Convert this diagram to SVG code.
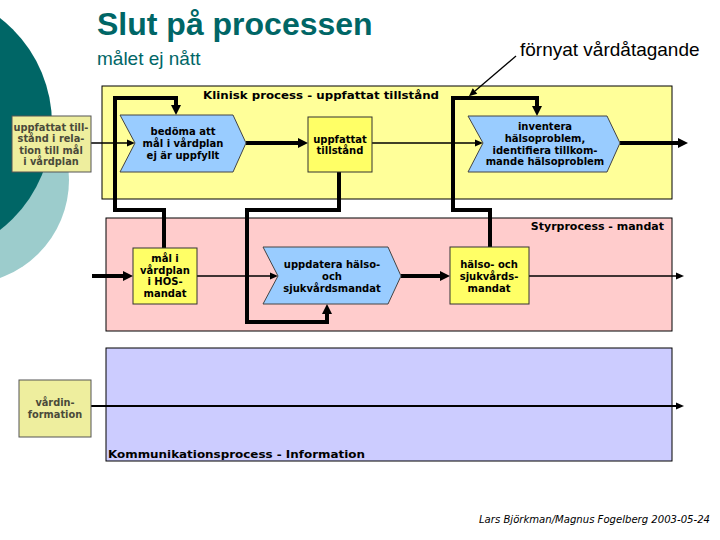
<svg xmlns="http://www.w3.org/2000/svg" width="720" height="540" viewBox="0 0 720 540">
<style>
.title{font-family:"Liberation Sans",Arial,sans-serif;fill:#006666}
.sec{font-family:"DejaVu Sans",Verdana,sans-serif;font-weight:bold;font-size:11px;fill:#000}
.nt{font-family:"DejaVu Sans",Verdana,sans-serif;font-weight:bold;font-size:10px;fill:#000;text-anchor:middle}
.lt{font-family:"DejaVu Sans",Verdana,sans-serif;font-weight:bold;font-size:9.8px;fill:#4a4a3a;text-anchor:middle}
.box{fill:#ffff66;stroke:#333;stroke-width:1}
.src{fill:#eeee9e;stroke:#555;stroke-width:1}
.chev{fill:#99ccff;stroke:#444;stroke-width:1}
.thick{fill:none;stroke:#000;stroke-width:4;stroke-linejoin:miter}
.thin{fill:none;stroke:#000;stroke-width:1.3}
.med{fill:none;stroke:#000;stroke-width:2}
</style>
<defs>
<marker id="ah" markerUnits="userSpaceOnUse" markerWidth="10" markerHeight="10" refX="0" refY="5" orient="auto" overflow="visible"><path d="M0,0 L10,5 L0,10 z" fill="#000"/></marker>
<marker id="as" markerUnits="userSpaceOnUse" markerWidth="8" markerHeight="7" refX="0" refY="3.5" orient="auto" overflow="visible"><path d="M0,0 L8,3.5 L0,7 z" fill="#000"/></marker>
</defs>
<rect width="720" height="540" fill="#fff"/>
<g id="decor">
<circle cx="-35" cy="180" r="104" fill="#9ccccc"/>
<circle cx="-82" cy="124" r="134" fill="#006666"/>
</g>
<g id="titles">
<text class="title" x="97" y="35" font-size="32" font-weight="bold">Slut på processen</text>
<text class="title" x="97" y="65" font-size="19">målet ej nått</text>
<text x="520" y="56" font-family="Liberation Sans,Arial,sans-serif" font-size="19" fill="#000">förnyat vårdåtagande</text>
</g>
<g id="lane-klinisk">
<rect x="102" y="86" width="570" height="113" fill="#ffff99" stroke="#000" stroke-width="1"/>
<text class="sec" x="203" y="99" textLength="236" lengthAdjust="spacingAndGlyphs">Klinisk process - uppfattat tillstånd</text>
</g>
<g id="lane-styr">
<rect x="106" y="218" width="566" height="113" fill="#ffcccc" stroke="#000" stroke-width="1"/>
<text class="sec" x="664" y="230" text-anchor="end">Styrprocess - mandat</text>
</g>
<g id="lane-komm">
<rect x="106" y="348" width="566" height="113" fill="#ccccff" stroke="#000" stroke-width="1"/>
<text class="sec" x="108" y="458" textLength="257" lengthAdjust="spacingAndGlyphs">Kommunikationsprocess - Information</text>
</g>
<g id="connectors">
<path class="thick" d="M164,248 V210 H115 V98 H176 V105" marker-end="url(#ah)"/>
<path class="thick" d="M339,172 V210 H247 V322 H327 V314" marker-end="url(#ah)"/>
<path class="thick" d="M490,247 V210 H453 V98 H537 V106" marker-end="url(#ah)"/>
<path class="thick" d="M246,143 H298" marker-end="url(#ah)"/>
<path class="thick" d="M620,143 H678" marker-end="url(#ah)"/>
<path class="thick" d="M92,276 H123" marker-end="url(#ah)"/>
<path class="thick" d="M401,276 H440" marker-end="url(#ah)"/>
<path class="thin" d="M91,143 H127" marker-end="url(#as)"/>
<path class="thin" d="M372,143 H475" marker-end="url(#as)"/>
<path class="thin" d="M197,276 H270" marker-end="url(#as)"/>
<path class="thin" d="M529,276 H676" marker-end="url(#as)"/>
<path class="thin" d="M516,56 L475,91" marker-end="url(#as)"/>
<path class="med" d="M91,406 H676" marker-end="url(#as)"/>
</g>
<g id="n-uppfattat-relation">
<rect class="src" x="12" y="116" width="79" height="56"/>
<text class="lt" x="51" y="130.5">uppfattat till-</text>
<text class="lt" x="51" y="142">stånd i rela-</text>
<text class="lt" x="51" y="153.5">tion till mål</text>
<text class="lt" x="51" y="165">i vårdplan</text>
</g>
<g id="n-bedoma">
<polygon class="chev" points="120,115 233,115 246,143 233,172 120,172 135,143"/>
<text class="nt" x="183" y="135">bedöma att</text>
<text class="nt" x="183" y="147">mål i vårdplan</text>
<text class="nt" x="183" y="159">ej är uppfyllt</text>
</g>
<g id="n-uppfattat">
<rect class="box" x="308" y="117" width="64" height="55"/>
<text class="nt" x="340" y="143">uppfattat</text>
<text class="nt" x="340" y="154">tillstånd</text>
</g>
<g id="n-inventera">
<polygon class="chev" points="468,116 607,116 620,143 607,172 468,172 483,143"/>
<text class="nt" x="545" y="130">inventera</text>
<text class="nt" x="545" y="142">hälsoproblem,</text>
<text class="nt" x="545" y="154">identifiera tillkom-</text>
<text class="nt" x="545" y="165">mande hälsoproblem</text>
</g>
<g id="n-mal">
<rect class="box" x="133" y="248" width="64" height="56"/>
<text class="nt" x="165" y="262">mål i</text>
<text class="nt" x="165" y="273.5">vårdplan</text>
<text class="nt" x="165" y="285">i HOS-</text>
<text class="nt" x="165" y="297">mandat</text>
</g>
<g id="n-uppdatera">
<polygon class="chev" points="263,247 388,247 401,276 388,304 263,304 278,276"/>
<text class="nt" x="332" y="268">uppdatera hälso-</text>
<text class="nt" x="332" y="280">och</text>
<text class="nt" x="332" y="292">sjukvårdsmandat</text>
</g>
<g id="n-halso">
<rect class="box" x="450" y="247" width="79" height="57"/>
<text class="nt" x="489" y="268">hälso- och</text>
<text class="nt" x="489" y="280">sjukvårds-</text>
<text class="nt" x="489" y="292">mandat</text>
</g>
<g id="n-vardinfo">
<rect class="src" x="19" y="380" width="72" height="57"/>
<text class="lt" x="55" y="406">vårdin-</text>
<text class="lt" x="55" y="418">formation</text>
</g>
<text x="479" y="523" font-family="DejaVu Sans,Verdana,sans-serif" font-style="italic" font-size="10" fill="#000" textLength="231" lengthAdjust="spacingAndGlyphs">Lars Björkman/Magnus Fogelberg 2003-05-24</text>
</svg>
